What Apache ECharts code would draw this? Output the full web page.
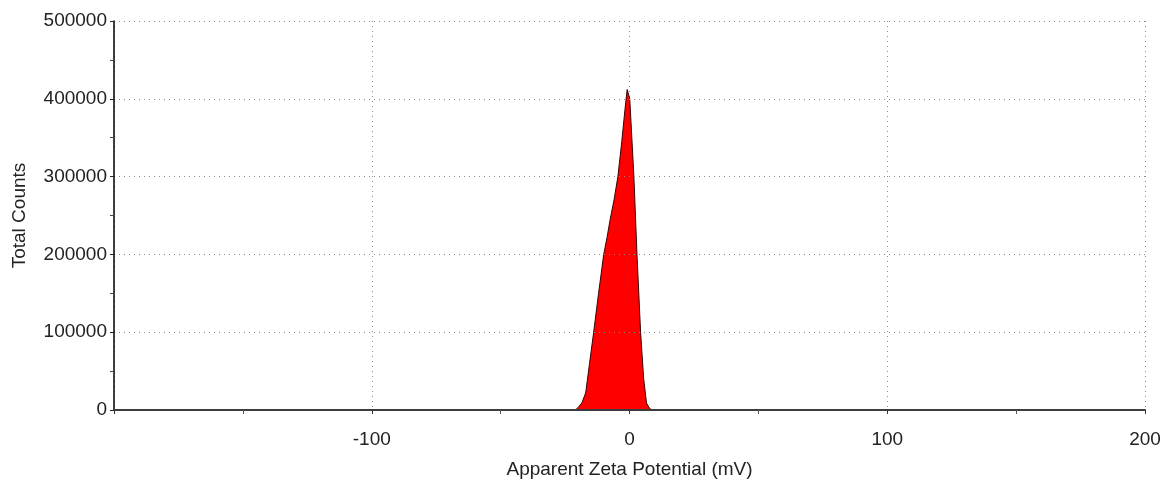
<!DOCTYPE html>
<html>
<head>
<meta charset="utf-8">
<script src="https://cdn.jsdelivr.net/npm/echarts@6/dist/echarts.min.js"></script>
<style>
  html, body { margin: 0; padding: 0; background: #ffffff; }
  #chart { width: 1164px; height: 487px; }
</style>
</head>
<body>
<div id="chart"></div>
<script>
// Zeta potential distribution (mV) and total counts
const zetaMv = [-21, -20, -18.5, -17, -15.5, -13.9, -12, -10, -8.7, -7.5, -6, -4.5, -3, -1.8, -0.9, 0.1, 0.9, 1.7, 2.9, 4.3, 5.5, 6.6, 7.6, 8.6];
const totalCounts = [0, 3000, 9000, 22000, 60000, 100000, 150000, 200000, 222000, 245000, 270000, 300000, 345000, 385000, 412000, 400000, 350000, 300000, 200000, 100000, 40000, 9000, 3000, 0];

const xTicks = { min: -200, max: 200, step: 100 };
const yTicks = { min: 0, max: 500000, step: 100000 };

const FONT = '"Liberation Sans", Arial, sans-serif';
const points = zetaMv.map((v, i) => [v, totalCounts[i]]);
const dotted = { color: '#8a8a8a', type: [1, 4], width: 1 };

const chart = echarts.init(document.getElementById('chart'), null, { renderer: 'canvas' });

chart.setOption({
  animation: false,
  backgroundColor: '#ffffff',
  grid: { left: 114, right: 19, top: 21, bottom: 77 },
  xAxis: [
    {
      // main axis: line, ticks and labels drawn above the filled peak
      type: 'value',
      min: xTicks.min, max: xTicks.max, interval: xTicks.step,
      z: 5,
      name: 'Apparent Zeta Potential (mV)',
      nameLocation: 'middle',
      nameGap: 50,
      nameTextStyle: { color: '#222', fontSize: 19, fontFamily: FONT },
      axisLine: { show: true, onZero: false, lineStyle: { color: '#3c3c3c', width: 2 } },
      axisTick: { show: true, inside: false, length: 4, lineStyle: { color: '#333' } },
      minorTick: { show: true, splitNumber: 2, length: 4, lineStyle: { color: '#555' } },
      axisLabel: {
        margin: 20, color: '#222', fontSize: 19, fontFamily: FONT,
        formatter: v => (v === xTicks.min ? '' : String(v))
      },
      splitLine: { show: false }
    },
    {
      // grid lines only, kept beneath the series
      type: 'value',
      min: xTicks.min, max: xTicks.max, interval: xTicks.step,
      z: 0,
      axisLine: { show: false },
      axisTick: { show: false },
      axisLabel: { show: false },
      splitLine: { show: true, lineStyle: dotted }
    }
  ],
  yAxis: {
    type: 'value',
    min: yTicks.min, max: yTicks.max, interval: yTicks.step,
    z: 5,
    name: 'Total Counts',
    nameLocation: 'middle',
    nameGap: 85,
    nameTextStyle: { color: '#222', fontSize: 19, fontFamily: FONT },
    axisLine: { show: true, onZero: false, lineStyle: { color: '#000', width: 1.5 } },
    axisTick: { show: true, length: 4, lineStyle: { color: '#222' } },
    minorTick: { show: true, splitNumber: 2, length: 4, lineStyle: { color: '#444' } },
    axisLabel: { margin: 7, color: '#222', fontSize: 19, fontFamily: FONT, formatter: v => String(v) },
    splitLine: { show: true, lineStyle: dotted }
  },
  series: [
    {
      type: 'line',
      xAxisIndex: 0,
      data: points,
      symbol: 'none',
      smooth: false,
      z: 2,
      lineStyle: { color: '#3a0000', width: 1 },
      areaStyle: { color: '#ff0000', opacity: 1, origin: 'start' }
    }
  ]
});
</script>
</body>
</html>
